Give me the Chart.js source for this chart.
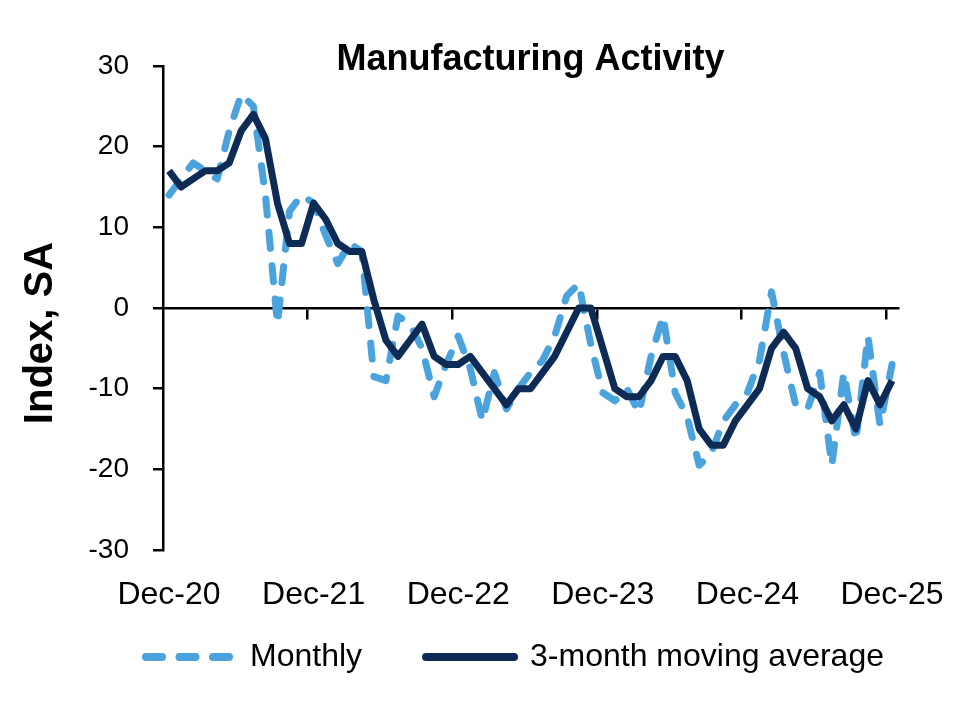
<!DOCTYPE html>
<html>
<head>
<meta charset="utf-8">
<title>Manufacturing Activity</title>
<script src="https://cdn.jsdelivr.net/npm/chart.js@4.4.1/dist/chart.umd.min.js"></script>
<style>
  html, body { margin: 0; padding: 0; background: #fff; }
  #wrap { width: 970px; height: 705px; }
</style>
</head>
<body>
<div id="wrap"><canvas id="grafico"></canvas></div>
<script>
// index 0 = Dec-20 ... index 60 = Dec-25
const monthly = [
  14, 16, 18, 17, 16, 22, 26.5, 25, 14, -2, 12, 14,
  13, 9, 5.5, 8, 7, -8.5, -9, -1, -2, -5, -11, -7,
  -3.5, -7.5, -14, -8, -12.5, -10, -8, -6.5, -3.5, 1.5, 3, -4.5,
  -10.5, -11.5, -10, -13, -6, -1, -10.5, -13.5, -19.5, -18, -14, -12,
  -10.5, -6.5, 2, -5.5, -12, -12.5, -8, -19.5, -8, -16.5, -3.5, -14.5,
  -7
];
const movingAvg = [
  17, 15, 16, 17, 17, 18, 22, 24, 21, 13, 8, 8,
  13, 11, 8, 7, 7, 1, -4, -6, -4, -2, -6, -7,
  -7, -6, -8, -10, -12, -10, -10, -8, -6, -3, 0, 0,
  -5, -10, -11, -11, -9, -6, -6, -9, -15, -17, -17, -14,
  -12, -10, -5, -3, -5, -10, -11, -14, -12, -15, -9, -12,
  -9
];
const tickLabels = ['Dec-20', 'Dec-21', 'Dec-22', 'Dec-23', 'Dec-24', 'Dec-25'];
const tickIndex = [0, 12, 24, 36, 48, 60];
const yearEdges = [11.5, 23.5, 35.5, 47.5, 59.5];
const seriesNames = ['Monthly', '3-month moving average'];
const chartTitle = 'Manufacturing Activity';
const yTitle = 'Index, SA';

const font = "'Liberation Sans', Arial, sans-serif";
const lightBlue = '#4BA3DE';
const navy = '#0E2B56';

const toPoints = (values) => values.map((v, i) => ({ x: i, y: v }));

// y title sits lower than the plot centre; legend is pulled up under the tick labels
const extras = {
  id: 'extras',
  afterLayout(chart) {
    const lg = chart.legend;
    lg.left += 65;
    lg.right += 65;
    lg.top -= 38;
    lg.bottom -= 38;
  },
  afterDraw(chart) {
    const ctx = chart.ctx;
    ctx.save();
    ctx.translate(41, 333);
    ctx.rotate(-Math.PI / 2);
    ctx.font = 'bold 40px ' + font;
    ctx.fillStyle = '#000';
    ctx.textAlign = 'center';
    ctx.textBaseline = 'middle';
    ctx.fillText(yTitle, 0, 0);
    ctx.restore();
  }
};

new Chart(document.getElementById('grafico'), {
  type: 'line',
  data: {
    datasets: [
      {
        label: seriesNames[0],
        data: toPoints(monthly),
        borderColor: lightBlue,
        backgroundColor: lightBlue,
        borderWidth: 7,
        borderDash: [16, 17.5],
        borderCapStyle: 'round',
        borderJoinStyle: 'round',
        pointRadius: 0,
        order: 2,
        xAxisID: 'x',
        yAxisID: 'y'
      },
      {
        label: seriesNames[1],
        data: toPoints(movingAvg),
        borderColor: navy,
        backgroundColor: navy,
        borderWidth: 7,
        borderJoinStyle: 'round',
        pointRadius: 0,
        order: 1,
        xAxisID: 'x',
        yAxisID: 'y'
      }
    ]
  },
  options: {
    responsive: true,
    maintainAspectRatio: false,
    animation: false,
    layout: { padding: { left: 0, right: 70, top: 0, bottom: -16 } },
    scales: {
      x: {
        type: 'linear',
        min: -0.5,
        max: 60.5,
        afterBuildTicks: (axis) => { axis.ticks = tickIndex.map(v => ({ value: v })); },
        afterFit: (axis) => { axis.height = 65; },
        border: { display: false },
        grid: { display: false, drawTicks: false },
        ticks: {
          padding: 25.8,
          maxRotation: 0,
          autoSkip: false,
          color: '#000',
          font: { family: font, size: 32 },
          callback: (value) => tickLabels[tickIndex.indexOf(value)]
        }
      },
      x2: {
        type: 'linear',
        axis: 'x',
        position: { y: 0 },
        min: -0.5,
        max: 60.5,
        afterBuildTicks: (axis) => { axis.ticks = yearEdges.map(v => ({ value: v })); },
        border: { display: true, color: '#000', width: 2.5 },
        grid: { drawOnChartArea: false, drawTicks: true, tickLength: 10, color: '#000', lineWidth: 2.5 },
        ticks: { display: false }
      },
      y: {
        min: -30,
        max: 30,
        afterFit: (axis) => { axis.width = 163; },
        border: { display: true, color: '#000', width: 2.5 },
        grid: { drawOnChartArea: false, drawTicks: true, tickLength: 10, color: '#000', lineWidth: 2.5 },
        ticks: {
          stepSize: 10,
          padding: 24,
          color: '#000',
          font: { family: font, size: 28 }
        }
      }
    },
    plugins: {
      title: {
        display: true,
        text: chartTitle,
        fullSize: false,
        color: '#000',
        font: { family: font, size: 36, weight: 'bold' },
        padding: { top: 38.4, bottom: -15.6 }
      },
      legend: {
        position: 'bottom',
        labels: {
          usePointStyle: true,
          pointStyleWidth: 88,
          padding: 64,
          color: '#000',
          font: { family: font, size: 32 },
          generateLabels: (chart) => chart.data.datasets.map((ds, i) => ({
            text: ds.label,
            datasetIndex: i,
            pointStyle: 'line',
            strokeStyle: ds.borderColor,
            fillStyle: ds.borderColor,
            lineWidth: 8,
            lineDash: ds.borderDash || [],
            lineCap: 'round',
            fontColor: '#000'
          }))
        }
      },
      tooltip: { enabled: false }
    }
  },
  plugins: [extras]
});
</script>
</body>
</html>
